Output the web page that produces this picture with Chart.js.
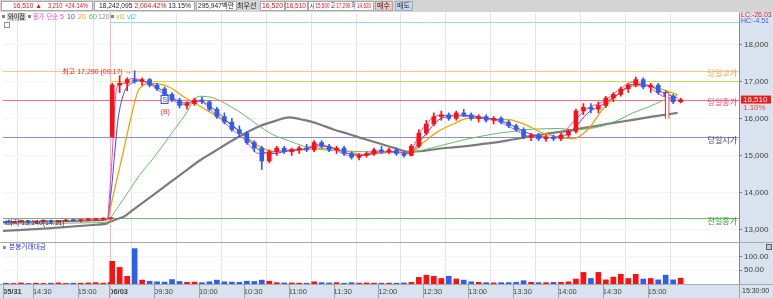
<!DOCTYPE html>
<html>
<head>
<meta charset="utf-8">
<script src="https://cdn.jsdelivr.net/npm/chart.js@4.4.1/dist/chart.umd.min.js"></script>
<style>
html, body { margin: 0; padding: 0; background: #fff; overflow: hidden; }
canvas { display: block; }
</style>
</head>
<body>
<canvas id="chart" width="773" height="298"></canvas>
<script>
const FONT = "'Liberation Sans', 'Noto Sans CJK KR', sans-serif";
const prevDay = '05/31';

// 5 minute candles, previous session then today
const candleTimes = [
    '05/31 14:10', '05/31 14:15', '05/31 14:20', '05/31 14:25', '05/31 14:30', '05/31 14:35', '05/31 14:40', '05/31 14:45',
    '05/31 14:50', '05/31 14:55', '05/31 15:00', '05/31 15:05', '05/31 15:10', '05/31 15:15', '05/31 15:20',
    '09:00', '09:05', '09:10', '09:15', '09:20', '09:25', '09:30', '09:35', '09:40', '09:45', '09:50', '09:55',
    '10:00', '10:05', '10:10', '10:15', '10:20', '10:25', '10:30', '10:35', '10:40', '10:45', '10:50', '10:55',
    '11:00', '11:05', '11:10', '11:15', '11:20', '11:25', '11:30', '11:35', '11:40', '11:45', '11:50', '11:55',
    '12:00', '12:05', '12:10', '12:15', '12:20', '12:25', '12:30', '12:35', '12:40', '12:45', '12:50', '12:55',
    '13:00', '13:05', '13:10', '13:15', '13:20', '13:25', '13:30', '13:35', '13:40', '13:45', '13:50', '13:55',
    '14:00', '14:05', '14:10', '14:15', '14:20', '14:25', '14:30', '14:35', '14:40', '14:45', '14:50', '14:55',
    '15:00', '15:05', '15:10', '15:15', '15:20'
];
const opens = [
    13200, 13190, 13210, 13230, 13200, 13220, 13240, 13210, 13230, 13250, 13240, 13260, 13270, 13280, 13290,
    15500, 16900, 16950, 17050, 17000, 17050, 16900, 16800, 16650, 16500, 16350, 16400,
    16500, 16450, 16250, 16050, 15900, 15700, 15600, 15350, 15200, 14850, 15100, 15200,
    15100, 15150, 15200, 15150, 15350, 15250, 15150, 15200, 15050, 14950, 15000, 15050,
    15150, 15100, 15150, 15050, 15000, 15250, 15600, 15850, 16050, 16100, 16000, 16150,
    16100, 16000, 16050, 15950, 16000, 15900, 15800, 15700, 15500, 15550, 15450, 15500,
    15450, 15550, 15650, 16200, 16300, 16250, 16350, 16550, 16650, 16800, 16900, 17050,
    16850, 16900, 16700, 16600, 16450
];
const highs = [
    13230, 13220, 13250, 13240, 13230, 13260, 13250, 13240, 13270, 13280, 13270, 13290, 13300, 13310, 13310,
    16950, 17150, 17100, 17290, 17100, 17080, 16950, 16850, 16700, 16550, 16450, 16550,
    16580, 16480, 16300, 16150, 16000, 15800, 15650, 15400, 15250, 15150, 15250, 15250,
    15200, 15250, 15300, 15400, 15400, 15300, 15250, 15250, 15100, 15050, 15100, 15200,
    15250, 15200, 15200, 15100, 15300, 15700, 15950, 16150, 16200, 16150, 16200, 16250,
    16150, 16100, 16100, 16050, 16050, 15950, 15850, 15750, 15600, 15600, 15550, 15550,
    15600, 15700, 16250, 16400, 16400, 16450, 16600, 16700, 16850, 16950, 17120, 17100,
    16950, 16950, 16750, 16650, 16550
];
const lows = [
    13140, 13170, 13190, 13180, 13170, 13200, 13190, 13180, 13210, 13220, 13200, 13230, 13240, 13250, 13270,
    15500, 16700, 16750, 16950, 16900, 16850, 16750, 16600, 16450, 16280, 16250, 16350,
    16400, 16200, 16000, 15850, 15650, 15500, 15300, 15100, 14620, 14800, 15000, 15050,
    15000, 15050, 15100, 15100, 15200, 15100, 15050, 15000, 14900, 14880, 14950, 15000,
    15050, 15050, 15000, 14950, 14980, 15200, 15550, 15800, 15950, 15950, 15950, 16050,
    15950, 15900, 15900, 15850, 15850, 15750, 15650, 15450, 15400, 15400, 15380, 15400,
    15400, 15500, 15600, 16100, 16150, 16150, 16300, 16450, 16600, 16700, 16850, 16800,
    16700, 16650, 16550, 16400, 16420
];
const closes = [
    13190, 13210, 13230, 13200, 13220, 13240, 13210, 13230, 13250, 13240, 13260, 13270, 13280, 13290, 13300,
    16900, 16950, 17050, 17000, 17050, 16900, 16800, 16650, 16500, 16350, 16400, 16500,
    16450, 16250, 16050, 15900, 15700, 15600, 15350, 15200, 14850, 15100, 15200, 15100,
    15150, 15200, 15150, 15350, 15250, 15150, 15200, 15050, 14950, 15000, 15050, 15150,
    15100, 15150, 15050, 15000, 15250, 15600, 15850, 16050, 16100, 16000, 16150, 16100,
    16000, 16050, 15950, 16000, 15900, 15800, 15700, 15500, 15550, 15450, 15500, 15450,
    15550, 15650, 16200, 16300, 16250, 16350, 16550, 16650, 16800, 16900, 17050, 16850,
    16900, 16700, 16600, 16450, 16510
];
// minute trading value (백만), peak per 5 minute block
const volumes = [
    3, 2, 4, 2, 3, 2, 3, 4, 2, 3, 3, 4, 5, 3, 6,
    82, 60, 28, 128, 14, 10, 8, 7, 16, 9, 6, 7,
    5, 8, 14, 8, 7, 6, 10, 9, 14, 10, 5, 4,
    4, 3, 3, 8, 5, 4, 5, 3, 5, 3, 4, 3,
    3, 3, 3, 4, 6, 24, 32, 28, 20, 28, 18, 14,
    8, 6, 5, 4, 5, 5, 6, 12, 6, 5, 5, 6,
    6, 8, 18, 42, 20, 42, 15, 25, 35, 20, 35, 18,
    20, 15, 32, 15, 21
];

// moving averages
const maTimes = [
    '05/31 14:10', '05/31 14:40', '05/31 15:10', '05/31 15:20',
    '09:00', '09:02', '09:04', '09:06', '09:10', '09:15', '09:20',
    '09:30', '09:40', '09:50', '10:00', '10:10', '10:20', '10:30', '10:40', '10:50',
    '11:00', '11:10', '11:20', '11:30', '11:40', '11:50', '12:00', '12:10', '12:20', '12:30', '12:40', '12:50',
    '13:00', '13:10', '13:20', '13:30', '13:40', '13:50', '14:00', '14:10', '14:20', '14:30', '14:40', '14:50',
    '15:00', '15:10', '15:20'
];
const ma5 = [
    13200, 13215, 13260, 13290, 13800, 15000, 16500, 16900, 16950, 17080, 17050,
    16850, 16550, 16380, 16480, 16150, 15780, 15450, 15050, 15100,
    15150, 15180, 15300, 15180, 15000, 15020, 15120, 15080, 15100, 15750, 16080, 16080,
    16050, 16000, 15930, 15720, 15520, 15480, 15500, 15900, 16280, 16450, 16750, 16980,
    16870, 16600, 16480
];
const ma10 = [
    13210, 13210, 13240, 13280, 13570, 14300, 15200, 16000, 16700, 16950, 17020,
    16900, 16620, 16420, 16470, 16250, 15880, 15550, 15150, 15050,
    15130, 15170, 15260, 15200, 15050, 15000, 15090, 15100, 15060, 15500, 15950, 16070,
    16080, 16020, 15960, 15800, 15600, 15500, 15480, 15700, 16150, 16380, 16650, 16920,
    16900, 16700, 16550
];
const ma20 = [
    13190, 13200, 13230, 13260, 13420, 13800, 14150, 14500, 15200, 16100, 16800,
    16950, 16850, 16580, 16350, 16100, 15880, 15550, 15250, 15100,
    15120, 15150, 15200, 15180, 15100, 15020, 15050, 15100, 15050, 15350, 15650, 15850,
    16000, 16000, 15980, 15950, 15800, 15600, 15500, 15450, 15700, 16250, 16650, 16880,
    16880, 16780, 16640
];
const ma60 = [
    13150, 13160, 13180, 13200, 13250, 13370, 13490, 13610, 13850, 14150, 14450,
    14950, 15500, 16050, 16600, 16550, 16350, 16100, 15800, 15550,
    15400, 15250, 15170, 15130, 15120, 15100, 15100, 15090, 15080, 15150, 15250, 15350,
    15450, 15530, 15600, 15650, 15700, 15720, 15730, 15700, 15720, 15800, 15950, 16150,
    16300, 16480, 16640
];
const ma120 = [
    12960, 13030, 13120, 13170, 13200, 13230, 13260, 13290, 13350, 13500, 13650,
    13950, 14250, 14550, 14850, 15100, 15350, 15580, 15780, 15920,
    16030, 15960, 15850, 15700, 15580, 15450, 15330, 15210, 15100, 15120, 15180, 15220,
    15260, 15310, 15360, 15430, 15500, 15570, 15630, 15690, 15760, 15830, 15900, 15960,
    16030, 16090, 16150
];
const maNames = ['5', '10', '20', '60', '120'];

// axis ticks
const tickTimes = ['05/31 14:10', '05/31 14:30', '05/31 15:00', '09:00', '09:30', '10:00', '10:30', '11:00',
    '11:30', '12:00', '12:30', '13:00', '13:30', '14:00', '14:30', '15:00'];
const tickLabels = ['05/31', '14:30', '15:00', '06/03', '09:30', '10:00', '10:30', '11:00',
    '11:30', '12:00', '12:30', '13:00', '13:30', '14:00', '14:30', '15:00'];
const priceTicks = [13000, 13500, 14000, 14500, 15000, 15500, 16000, 16500, 17000, 17500, 18000, 18500];
const volumeTicks = [50, 100];

// reference levels
const refLabels = ['당일고가', '당일종가', '당일시가', '전일종가'];
const refPrices = [17290, 16510, 15500, 13300];
const viLabels = ['vi1', 'vi2'];
const viPrices = [17010, 18610];

// marks and texts
const highTime = '09:17', highPrice = 17290;
const lowTime = '05/31 14:11', lowPrice = 13140;
const signalTimes = ['09:37', '09:37'];
const signalPrices = [16500, 16180];
const signalTypes = ['S', 'B'];
const boxTime = '15:13';
const boxRange = [15990, 16700];
const changeNote = '1.10%';
const lcText = 'LC:-26.03', hcText = 'HC:-4.51';
const headerTexts = ['16,510 ▲', '3,210', '+24.14%', '18,242,095', '2,004.42%', '13.15%', '295,947백만', '최우선',
    '16,520', '16,510', '시', '15,500', '고', '17,290', '저', '14,620'];
const headerRed = [true, true, true, false, true, false, false, false, true, true, false, true, false, true, false, true];

const UP = '#ff1010', DOWN = '#2f5fe8';

function slotOf(t) {
    // one slot per minute, previous session 14:10 is slot 0, today 09:00 is slot 71
    if (t.startsWith(prevDay)) {
        const [h, m] = t.slice(6).split(':').map(Number);
        return h * 60 + m - (14 * 60 + 10);
    }
    const [h, m] = t.split(':').map(Number);
    return 71 + h * 60 + m - 9 * 60;
}
const fmt = v => v.toLocaleString('en-US');

const upFlags = closes.map((c, i) => c >= opens[i]);
const candleColors = upFlags.map(u => u ? UP : DOWN);
const mid = t => slotOf(t) + 2;

function maSet(label, values, color, width, order) {
    return {
        type: 'line', label: label, yAxisID: 'y', order: order,
        data: maTimes.map((t, i) => ({x: slotOf(t), y: values[i]})),
        borderColor: color, borderWidth: width, pointRadius: 0,
        cubicInterpolationMode: 'monotone', fill: false
    };
}

// draws a row of coloured words squeezed into [x0, x1]
function squeeze(ctx, words, colors, x0, x1, y, gap) {
    const widths = words.map(w => ctx.measureText(w).width);
    const total = widths.reduce((s, w) => s + w, 0) + gap * (words.length - 1);
    const k = Math.min(1, (x1 - x0) / total);
    ctx.save();
    ctx.translate(x0, 0);
    ctx.scale(k, 1);
    let cx = 0;
    words.forEach((w, i) => {
        ctx.fillStyle = colors[i];
        ctx.fillText(w, cx, y);
        cx += widths[i] + gap;
    });
    ctx.restore();
}

const decor = {
    id: 'decor',
    beforeDraw(chart) {
        const {ctx, chartArea: a} = chart;
        ctx.save();
        ctx.fillStyle = '#fff';
        ctx.fillRect(0, 0, chart.width, chart.height);
        ctx.fillStyle = '#d9e3ef';
        ctx.fillRect(a.right, 12, chart.width - a.right, a.bottom - 12);
        ctx.fillRect(0, a.bottom, chart.width, chart.height - a.bottom);
        ctx.fillStyle = '#d4d4d4';
        ctx.fillRect(0, 0, chart.width, 12);
        ctx.restore();
    },
    beforeDatasetsDraw(chart) {
        const {ctx, chartArea: a, scales} = chart;
        const y = scales.y, x = scales.x;
        const refColors = ['#ffc488', '#ff6a84', '#8c8cc8', '#6cbc6c'];
        const viColors = ['#c4d850', '#8ce4e4'];
        const dayX = Math.round(x.getPixelForValue(slotOf('09:00'))) + 1.5;
        ctx.save();
        ctx.lineWidth = 1;
        refPrices.forEach((p, i) => {
            const py = Math.round(y.getPixelForValue(p)) + 0.5;
            ctx.strokeStyle = refColors[i];
            ctx.beginPath(); ctx.moveTo(a.left, py); ctx.lineTo(a.right, py); ctx.stroke();
        });
        viPrices.forEach((p, i) => {
            const py = Math.round(y.getPixelForValue(p)) + 0.5;
            ctx.strokeStyle = viColors[i];
            ctx.beginPath(); ctx.moveTo(dayX, py); ctx.lineTo(a.right, py); ctx.stroke();
        });
        // day separator
        ctx.strokeStyle = '#ffb4b4';
        ctx.beginPath(); ctx.moveTo(dayX, 12); ctx.lineTo(dayX, chart.height); ctx.stroke();
        ctx.restore();
    },
    afterDraw(chart) {
        const {ctx, chartArea: a, scales} = chart;
        const x = scales.x, y = scales.y, yv = scales.yv;
        ctx.save();
        // panel separators
        ctx.strokeStyle = '#a9a9a9';
        ctx.lineWidth = 1;
        const sep = Math.round(yv.top) + 0.5;
        ctx.beginPath(); ctx.moveTo(0, sep); ctx.lineTo(chart.width, sep); ctx.stroke();
        ctx.beginPath(); ctx.moveTo(0, Math.round(a.bottom) + 0.5); ctx.lineTo(chart.width, Math.round(a.bottom) + 0.5); ctx.stroke();
        ctx.strokeStyle = '#9aa4b0';
        tickTimes.forEach(t => {
            const px = Math.round(x.getPixelForValue(slotOf(t))) + 0.5;
            ctx.beginPath(); ctx.moveTo(px, a.bottom); ctx.lineTo(px, chart.height); ctx.stroke();
        });
        ctx.beginPath(); ctx.moveTo(a.right + 0.5, a.bottom); ctx.lineTo(a.right + 0.5, chart.height); ctx.stroke();
        ctx.textBaseline = 'middle';
        ctx.font = '7px ' + FONT;
        ctx.fillStyle = '#333';
        ctx.fillText('15:30:00', a.right + 3, 291);

        // header row
        const boxes = [[1, 92], [94, 194], [196, 236], [260, 284], [285, 307], [308, 373]];
        ctx.fillStyle = '#fff';
        ctx.strokeStyle = '#a8a8a8';
        boxes.forEach(b => { ctx.fillRect(b[0], 1, b[1] - b[0], 10); ctx.strokeRect(b[0] + 0.5, 1.5, b[1] - b[0], 9); });
        ctx.fillStyle = '#f2c4c4';
        ctx.fillRect(375, 1, 17, 10); ctx.strokeRect(375.5, 1.5, 17, 9);
        ctx.fillStyle = '#c4d6f0';
        ctx.fillRect(395, 1, 17, 10); ctx.strokeRect(395.5, 1.5, 17, 9);
        ctx.font = '7px ' + FONT;
        const hColor = i => headerRed[i] ? '#e81010' : '#222';
        squeeze(ctx, headerTexts.slice(0, 1), [hColor(0)], 13, 42, 6.5, 0);
        squeeze(ctx, headerTexts.slice(1, 3), [hColor(1), hColor(2)], 48, 88, 6.5, 3);
        squeeze(ctx, headerTexts.slice(3, 6), [hColor(3), hColor(4), hColor(5)], 99, 191, 6.5, 2);
        squeeze(ctx, headerTexts.slice(6, 7), [hColor(6)], 198, 234, 6.5, 0);
        squeeze(ctx, headerTexts.slice(7, 8), [hColor(7)], 237, 258, 6.5, 0);
        squeeze(ctx, headerTexts.slice(8, 9), [hColor(8)], 262, 283, 6.5, 0);
        squeeze(ctx, headerTexts.slice(9, 10), [hColor(9)], 286, 306, 6.5, 0);
        squeeze(ctx, headerTexts.slice(10), headerTexts.slice(10).map((s, i) => hColor(10 + i)), 310, 371, 6.5, 2);
        ctx.fillStyle = '#222';
        ctx.fillText('매수', 377, 6.5);
        ctx.fillText('매도', 397, 6.5);

        // legend row
        ctx.fillStyle = '#808080';
        ctx.fillRect(2, 15, 3, 3);
        ctx.fillStyle = '#d6d6d6';
        ctx.fillRect(7, 13, 19, 8);
        squeeze(ctx, ['와이첩'], ['#222'], 8, 25, 17.5, 0);
        ctx.fillStyle = '#808080';
        ctx.fillRect(28, 15, 3, 3);
        ctx.fillRect(111, 15, 3, 3);
        const maColors = ['#ee44cc', '#3050ff', '#f0a000', '#50b850', '#909090'];
        squeeze(ctx, ['종가', '단순'], [maColors[0], maColors[0]], 33, 58, 17.5, 3);
        const maX = [60, 67, 78, 89, 98];
        maNames.forEach((n, i) => {
            ctx.fillStyle = maColors[i];
            ctx.fillText(n, maX[i], 17.5);
        });
        ctx.fillStyle = '#a8c830';
        ctx.fillText(viLabels[0], 116, 17.5);
        ctx.fillStyle = '#40c8d8';
        ctx.fillText(viLabels[1], 127, 17.5);
        ctx.strokeStyle = '#909090';
        ctx.strokeRect(4.5, 22.5, 5, 5);

        // reference labels on the right
        ctx.font = '8px ' + FONT;
        const labelColors = ['#f0a050', '#ff3c64', '#3c3c7c', '#30a030'];
        ctx.textAlign = 'right';
        refPrices.forEach((p, i) => {
            ctx.fillStyle = labelColors[i];
            ctx.fillText(refLabels[i], a.right - 2, y.getPixelForValue(p) + 3.5);
        });

        // high / low notes
        ctx.font = '7px ' + FONT;
        ctx.fillStyle = '#ff2020';
        const hx0 = x.getPixelForValue(slotOf(highTime));
        const hy0 = y.getPixelForValue(highPrice);
        ctx.fillText('최고 ' + fmt(highPrice) + ' (' + highTime + ') →', hx0 - 3, hy0 + 1);
        ctx.textAlign = 'left';
        ctx.fillStyle = '#2030c0';
        ctx.fillText('최저 ' + fmt(lowPrice) + '(' + lowTime.slice(6) + ')', x.getPixelForValue(slotOf(lowTime)) + 2, y.getPixelForValue(lowPrice) - 1);

        // signals
        signalTypes.forEach((s, i) => {
            const sx = x.getPixelForValue(slotOf(signalTimes[i]));
            const sy = y.getPixelForValue(signalPrices[i]);
            if (s === 'S') {
                ctx.fillStyle = '#fff';
                ctx.fillRect(sx - 3, sy - 4, 7, 8);
                ctx.strokeStyle = '#3050d0';
                ctx.strokeRect(sx - 3.5, sy - 4.5, 7, 8);
                ctx.fillStyle = '#3050d0';
                ctx.fillText(s, sx - 2, sy);
            } else {
                ctx.fillStyle = '#ff2020';
                ctx.fillText('(' + s + ')', sx - 4, sy);
            }
        });

        // current price tag and corner notes
        ctx.font = '8px ' + FONT;
        const last = closes[closes.length - 1];
        const ly = y.getPixelForValue(last);
        ctx.fillStyle = '#f01818';
        ctx.fillRect(a.right + 2, ly - 4, 30, 8);
        ctx.fillStyle = '#fff';
        ctx.fillText(fmt(last), a.right + 4, ly + 0.5);
        ctx.fillStyle = '#f04040';
        ctx.fillText(changeNote, a.right + 4, ly + 8);
        ctx.font = '7px ' + FONT;
        ctx.fillStyle = '#e82020';
        ctx.fillText(lcText, a.right + 2, 15.5);
        ctx.fillStyle = '#3060e0';
        ctx.fillText(hcText, a.right + 2, 21.5);

        // volume panel caption
        ctx.fillStyle = '#909090';
        ctx.fillRect(3, yv.top + 4, 3, 3);
        squeeze(ctx, ['분봉거래대금'], ['#3040e0'], 9, 46, yv.top + 5.5, 0);
        ctx.fillStyle = '#c8c8c8';
        ctx.fillRect(766, yv.top + 2, 5, 5);
        ctx.strokeStyle = '#606060';
        ctx.strokeRect(766.5, yv.top + 2.5, 5, 5);
        ctx.restore();
    }
};

const ctx = document.getElementById('chart').getContext('2d');
new Chart(ctx, {
    type: 'bar',
    data: {
        datasets: [
            maSet('ma5', ma5, '#ff40d0', 1, 6),
            maSet('ma10', ma10, '#3050ff', 1, 7),
            maSet('ma20', ma20, '#f5a200', 1.3, 8),
            maSet('ma60', ma60, '#62c062', 1, 9),
            maSet('ma120', ma120, '#7c7c7c', 2.2, 10),
            {
                label: 'wick', yAxisID: 'y', order: 3, grouped: false,
                data: candleTimes.map((t, i) => ({x: mid(t), y: [lows[i], highs[i]]})),
                backgroundColor: candleColors, barThickness: 1
            },
            {
                label: 'body', yAxisID: 'y', order: 2, grouped: false,
                data: candleTimes.map((t, i) => ({x: mid(t), y: [Math.min(opens[i], closes[i]), Math.max(opens[i], closes[i])]})),
                backgroundColor: candleColors, barThickness: 4, minBarLength: 1
            },
            {
                label: 'box', yAxisID: 'y', order: 1, grouped: false,
                data: [{x: slotOf(boxTime), y: boxRange}],
                backgroundColor: '#fff', borderColor: '#f01010', borderWidth: 1, barThickness: 4
            },
            {
                label: 'volume', yAxisID: 'yv', order: 4, grouped: false,
                data: candleTimes.map((t, i) => ({x: mid(t), y: volumes[i]})),
                backgroundColor: candleColors, barThickness: 5
            }
        ]
    },
    options: {
        responsive: false,
        devicePixelRatio: 1,
        animation: false,
        events: [],
        layout: {padding: {top: 13, left: 0, right: 0, bottom: 0}},
        plugins: {legend: {display: false}, tooltip: {enabled: false}},
        scales: {
            x: {
                type: 'linear', min: 0, max: 492, offset: false,
                afterBuildTicks: s => { s.ticks = tickTimes.map(t => ({value: slotOf(t)})); },
                afterFit: s => { s.height = 14; },
                grid: {color: '#e4e4e4', drawTicks: false},
                border: {display: false},
                ticks: {
                    autoSkip: false, maxRotation: 0, align: 'start', padding: 3,
                    color: '#444',
                    font: c => ({family: FONT, size: 7.5, weight: c.index === 0 || c.index === 3 ? 'bold' : 'normal'}),
                    callback: (v, i) => tickLabels[i]
                }
            },
            y: {
                type: 'linear', position: 'right', stack: 'panes', stackWeight: 229,
                min: 12660, max: 18850,
                afterBuildTicks: s => { s.ticks = priceTicks.map(v => ({value: v})); },
                afterFit: s => { s.width = 34; },
                grid: {color: '#ececec', tickLength: 3, tickColor: '#777'},
                border: {display: true, color: '#8a8a8a', dash: [1, 1]},
                ticks: {color: '#444', padding: 2, font: {family: FONT, size: 8}, callback: v => fmt(v)}
            },
            yv: {
                type: 'linear', position: 'right', stack: 'panes', stackWeight: 42,
                min: 0, max: 152,
                afterBuildTicks: s => { s.ticks = volumeTicks.map(v => ({value: v})); },
                afterFit: s => { s.width = 34; },
                grid: {color: '#ececec', tickLength: 3, tickColor: '#777'},
                border: {display: true, color: '#8a8a8a', dash: [1, 1]},
                ticks: {color: '#444', padding: 2, font: {family: FONT, size: 8}, callback: v => v.toFixed(2)}
            }
        }
    },
    plugins: [decor]
});
</script>
</body>
</html>
